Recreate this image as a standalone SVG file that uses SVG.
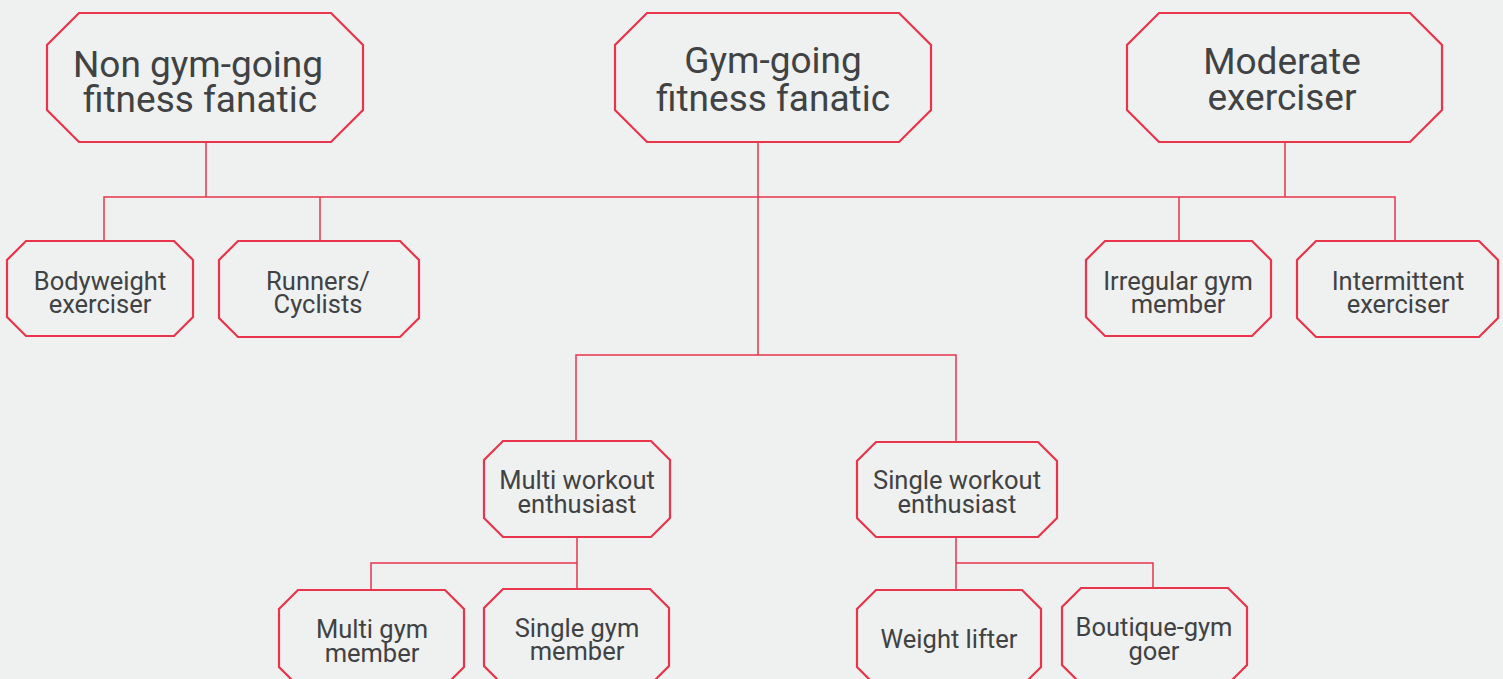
<svg xmlns="http://www.w3.org/2000/svg" width="1503" height="679" viewBox="0 0 1503 679">
<style>
.bg{fill:#eff0f0}
.n{fill:#eff0f0;stroke:#e8354b;stroke-width:2.2;stroke-linejoin:miter}
.c{fill:none;stroke:#e8354b;stroke-width:1.5}
.t{font-family:Roboto,"Liberation Sans",sans-serif;fill:#404243;text-anchor:middle}
.lg{font-size:37px}
.sm{font-size:25.5px}
</style>
<rect class="bg" x="0" y="0" width="1503" height="679"/>
<g id="connectors">
<path class="c" d="M206,142V197M104,240V197H1395V240M320,197V240M758,142V355M1285,142V197M1179,197V240"/>
<path class="c" d="M576,441V355H956V441"/>
<path class="c" d="M577,537V588M371,589V563H577"/>
<path class="c" d="M956,537V589M956,563H1153V588"/>
</g>
<g id="non-gym">
<polygon class="n" points="79,13 331,13 363,45 363,110 331,142 79,142 47,110 47,45"/>
<text class="t lg" x="198" y="77">Non gym-going</text>
<text class="t lg" x="200" y="112">fitness fanatic</text>
</g>
<g id="gym-going">
<polygon class="n" points="647,13 899,13 931,45 931,110 899,142 647,142 615,110 615,45"/>
<text class="t lg" x="773" y="73">Gym-going</text>
<text class="t lg" x="773" y="111">fitness fanatic</text>
</g>
<g id="moderate">
<polygon class="n" points="1159,13 1410,13 1442,45 1442,110 1410,142 1159,142 1127,110 1127,45"/>
<text class="t lg" x="1282" y="74">Moderate</text>
<text class="t lg" x="1282" y="110">exerciser</text>
</g>
<g id="bodyweight">
<polygon class="n" points="26,241 174,241 193,260 193,317 174,336 26,336 7,317 7,260"/>
<text class="t sm" x="100" y="290">Bodyweight</text>
<text class="t sm" x="100" y="313">exerciser</text>
</g>
<g id="runners">
<polygon class="n" points="238,241 400,241 419,260 419,318 400,337 238,337 219,318 219,260"/>
<text class="t sm" x="318" y="290">Runners/</text>
<text class="t sm" x="318" y="313">Cyclists</text>
</g>
<g id="irregular">
<polygon class="n" points="1105,241 1252,241 1271,260 1271,317 1252,336 1105,336 1086,317 1086,260"/>
<text class="t sm" x="1178" y="290">Irregular gym</text>
<text class="t sm" x="1178" y="313">member</text>
</g>
<g id="intermittent">
<polygon class="n" points="1316,241 1479,241 1498,260 1498,318 1479,337 1316,337 1297,318 1297,260"/>
<text class="t sm" x="1398" y="290">Intermittent</text>
<text class="t sm" x="1398" y="313">exerciser</text>
</g>
<g id="multi-workout">
<polygon class="n" points="503,441 651,441 670,460 670,518 651,537 503,537 484,518 484,460"/>
<text class="t sm" x="577" y="489">Multi workout</text>
<text class="t sm" x="577" y="513">enthusiast</text>
</g>
<g id="single-workout">
<polygon class="n" points="876,442 1038,442 1057,461 1057,518 1038,537 876,537 857,518 857,461"/>
<text class="t sm" x="957" y="489">Single workout</text>
<text class="t sm" x="957" y="513">enthusiast</text>
</g>
<g id="multi-gym">
<polygon class="n" points="298,590 445,590 464,609 464,667 445,686 298,686 279,667 279,609"/>
<text class="t sm" x="372" y="638">Multi gym</text>
<text class="t sm" x="372" y="662">member</text>
</g>
<g id="single-gym">
<polygon class="n" points="503,589 650,589 669,608 669,666 650,685 503,685 484,666 484,608"/>
<text class="t sm" x="577" y="637">Single gym</text>
<text class="t sm" x="577" y="660">member</text>
</g>
<g id="weight-lifter">
<polygon class="n" points="876,590 1022,590 1041,609 1041,667 1022,686 876,686 857,667 857,609"/>
<text class="t sm" x="949" y="648">Weight lifter</text>
</g>
<g id="boutique">
<polygon class="n" points="1081,588 1228,588 1247,607 1247,665 1228,684 1081,684 1062,665 1062,607"/>
<text class="t sm" x="1154" y="636">Boutique-gym</text>
<text class="t sm" x="1154" y="660">goer</text>
</g>
</svg>
